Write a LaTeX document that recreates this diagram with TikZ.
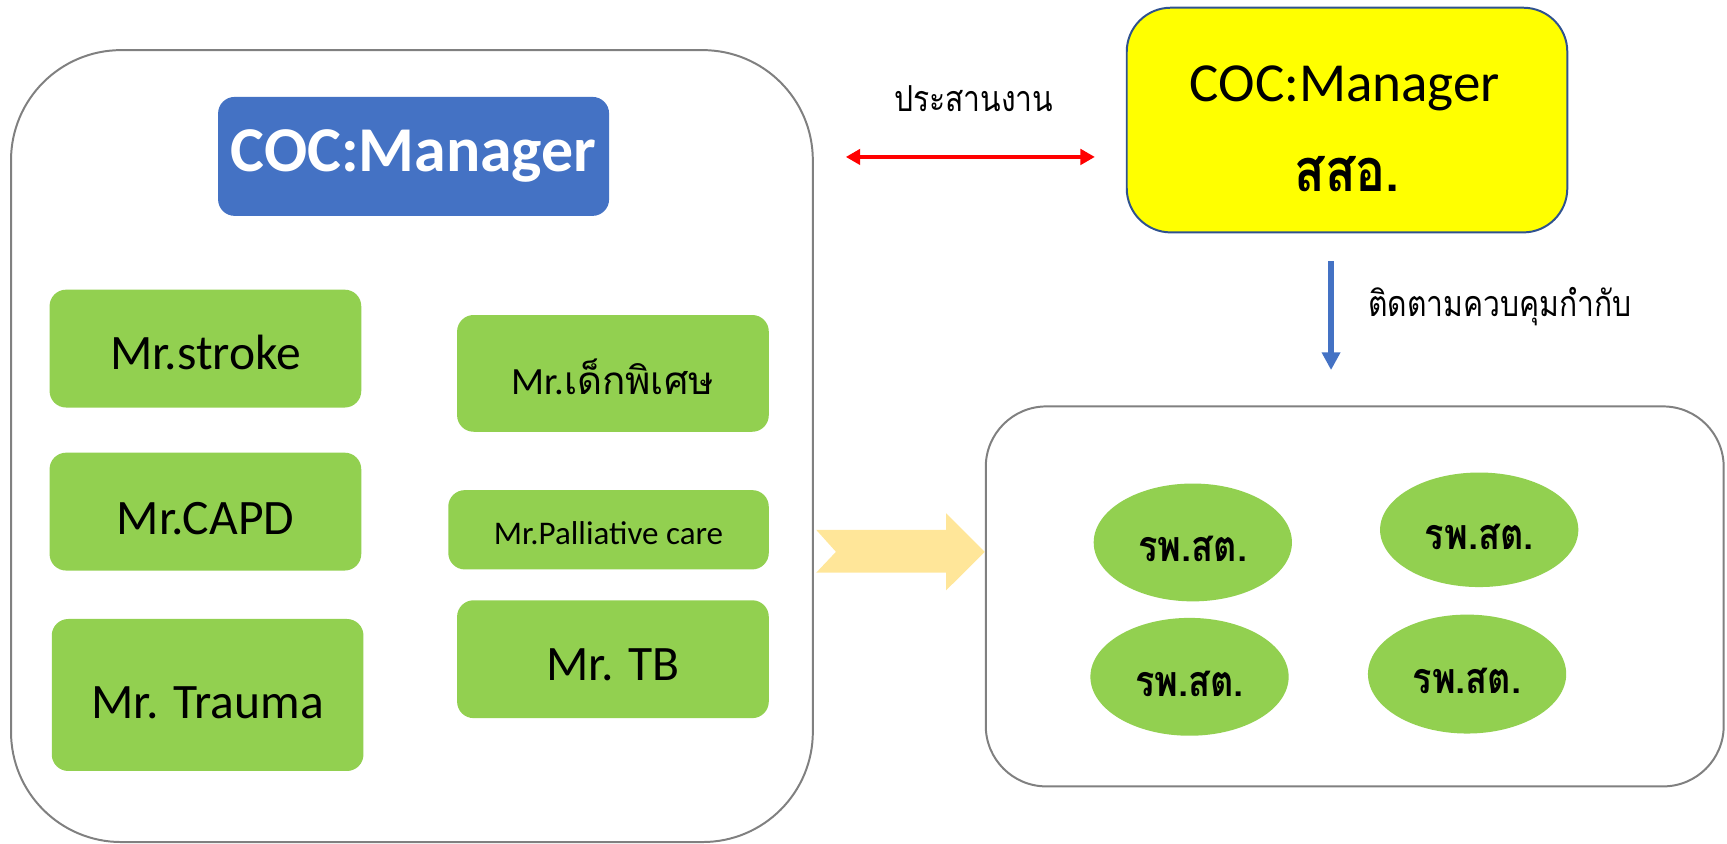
\documentclass[tikz,border=0pt]{standalone}
\usepackage{fontspec}
\setmainfont{Carlito}
\newfontfamily\thai[Script=Thai]{Loma}
\newfontfamily\thainarrow[Script=Thai,FakeStretch=0.84]{Loma}
\usetikzlibrary{shapes.geometric,arrows.meta}

\definecolor{framegray}{HTML}{808080}
\definecolor{headblue}{HTML}{4472C4}
\definecolor{unitgreen}{HTML}{92D050}
\definecolor{chiefyellow}{HTML}{FFFF00}
\definecolor{chiefline}{HTML}{2F528F}
\definecolor{flowgold}{HTML}{FFE699}
\definecolor{linkred}{HTML}{FF0000}

\begin{document}
\begin{tikzpicture}[x=1pt,y=-1pt,
  frame/.style={draw=framegray, line width=1.8pt, fill=white, rectangle, inner sep=0pt},
  unitbox/.style={fill=unitgreen, rectangle, rounded corners=15pt,
    minimum width=283pt, minimum height=107pt, inner sep=0pt,
    font=\fontsize{45}{54}\selectfont, text height=40pt, text depth=0pt},
  pcu/.style={fill=unitgreen, ellipse, minimum width=180pt, minimum height=107pt,
    inner sep=0pt, font=\thainarrow\bfseries\fontsize{39}{47}\selectfont,
    text height=35pt, text depth=0pt},
  thailabel/.style={anchor=base, inner sep=0pt, font=\thainarrow\fontsize{32.5}{39}\selectfont}
]
\useasboundingbox (0,0) rectangle (1568,766);

% district team and its case managers
\node[frame, rounded corners=100pt, minimum width=728pt, minimum height=719pt]
  (team) at (374,405) {};
\node[fill=headblue, rectangle, rounded corners=15pt, minimum width=355pt,
  minimum height=108pt, inner sep=0pt, text=white,
  font=\bfseries\fontsize{58}{66}\selectfont, text height=28pt, text depth=0pt]
  (head) at (375.5,142) {COC:Manager};

\node[unitbox, text height=38.5pt] (stroke) at (186.5,316.5) {Mr.stroke};
\node[unitbox, text height=41pt] (capd) at (186.5,464.5) {Mr.CAPD};
\node[unitbox, minimum height=138pt, text height=42pt] (trauma) at (188.5,631) {Mr. Trauma};
\node[unitbox, minimum height=106pt, text height=39pt,
  font=\fontsize{35}{42}\selectfont] (child) at (556.5,339) {Mr.{\thai เด็กพิเศษ}};
\node[unitbox, minimum width=291pt, minimum height=72pt, text height=26pt,
  font=\fontsize{30}{36}\selectfont] (pall) at (552.5,481) {Mr.Palliative care};
\node[unitbox, text height=39pt] (tb) at (556.5,598.5) {Mr. TB};

% district health office
\node[fill=chiefyellow, draw=chiefline, line width=1.8pt, rectangle,
  rounded corners=40pt, minimum width=400pt, minimum height=204pt, inner sep=0pt]
  (chief) at (1223,109) {};
\node[anchor=base, inner sep=0pt, font=\fontsize{50}{60}\selectfont]
  (chiefname) at (1221,92.5) {COC:Manager};
\node[anchor=base, inner sep=0pt, font=\thainarrow\bfseries\fontsize{54}{64}\selectfont]
  (chiefunit) at (1223,174) {สสอ.};

% coordination link
\coordinate (linkL) at (768,142.5);
\coordinate (linkR) at (994,142.5);
\draw[linkred, line width=3pt, {Triangle[length=13pt,width=14pt]}-{Triangle[length=13pt,width=14pt]}]
  (linkL) -- (linkR);
\node[thailabel] (linktext) at (884,101) {ประสานงาน};

% supervision link
\coordinate (superT) at (1208.5,237);
\coordinate (superB) at (1208.5,336);
\draw[headblue, line width=5pt, -{Triangle[length=16pt,width=16pt]}] (superT) -- (superB);
\node[thailabel, anchor=base west] (supertext) at (1242,287.5) {ติดตามควบคุมกำกับ};

% sub-district health promoting hospitals
\node[frame, rounded corners=55pt, minimum width=670pt, minimum height=345pt]
  (network) at (1230,541.5) {};
\node[pcu] (pcuA) at (1083,492.5) {รพ.สต.};
\node[pcu, minimum height=104pt] (pcuB) at (1343,481) {รพ.สต.};
\node[pcu] (pcuC) at (1080,614.5) {รพ.สต.};
\node[pcu, minimum height=108pt] (pcuD) at (1332,612) {รพ.สต.};

% hand-over chevron
\fill[flowgold] (741,481) -- (859,481) -- (859,466) -- (network.west |- 0,501)
  -- (859,536) -- (859,520) -- (741,520) -- (759,501) -- cycle;
\end{tikzpicture}
\end{document}
